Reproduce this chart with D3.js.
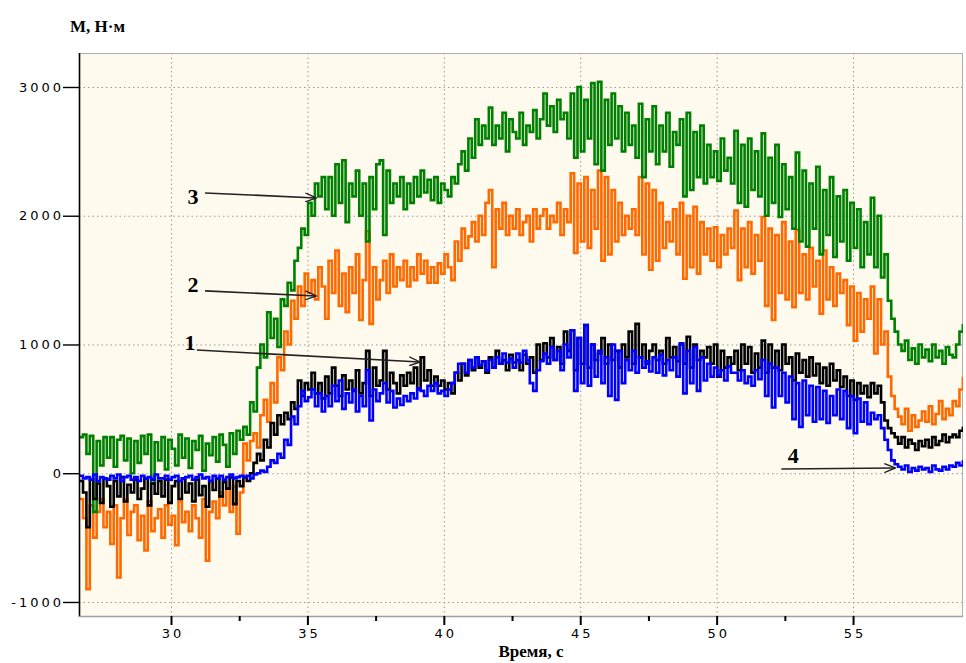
<!DOCTYPE html>
<html><head><meta charset="utf-8">
<script src="https://cdn.jsdelivr.net/npm/d3@7"></script>
<style>body{margin:0;background:#fff}svg{display:block}</style>
</head><body>
<svg id="c" width="966" height="663"></svg>
<script>
// ---- data ----
const tStart = 26.65, tStep = 0.125;   // sampling of the recorded curves, s
const xTicks = [30, 35, 40, 45, 50, 55];
const xMinorTicks = [32.5, 37.5, 42.5, 47.5, 52.5];
const yTicks = [-1000, 0, 1000, 2000, 3000];
const yTitle = "М, Н·м";
const xTitle = "Время, с";

// curve 3 (green)
const curve3 = [
 280,300,150,290,-300,250,60,280,
 120,280,50,260,290,100,270,0,
 250,80,290,150,300,-80,240,100,
 280,30,260,190,60,300,120,270,
 40,250,180,290,20,230,140,280,
 90,300,220,50,310,150,330,260,
 360,300,550,480,820,1000,900,1250,
 1050,1200,980,1350,1300,1480,1420,1650,
 1750,1900,1850,2100,2000,2250,2150,2300,
 2050,2300,2000,2400,2100,2430,1950,2250,
 2150,2350,2000,2250,1800,2300,2050,2400,
 2430,1850,2350,2100,2250,2150,2300,2050,
 2250,2100,2300,2150,2350,2180,2280,2120,
 2300,2100,2250,2200,2150,2300,2250,2400,
 2500,2350,2600,2450,2750,2550,2700,2600,
 2840,2550,2700,2600,2800,2500,2750,2650,
 2600,2800,2550,2700,2650,2820,2600,2750,
 2950,2700,2850,2650,2900,2750,2800,2600,
 2950,2450,3000,2500,2900,2600,3030,2400,
 3040,2350,2900,2550,2950,2600,2850,2500,
 2800,2550,2700,2450,2870,2300,2750,2500,
 2850,2400,2700,2500,2800,2380,2650,2550,
 2750,2150,2800,2200,2650,2300,2700,2250,
 2550,2300,2500,2270,2600,2350,2450,2250,
 2660,2100,2550,2070,2600,2200,2500,2150,
 2640,2000,2450,2100,2550,1990,2400,2050,
 2300,1900,2490,1800,2350,1760,2250,1900,
 2380,1700,2200,1850,2300,1680,2150,1800,
 2200,1650,2100,1750,2050,1600,1950,1700,
 2140,1600,2000,1520,1700,1340,1200,1100,
 1000,950,1030,880,970,850,1000,900,
 960,870,1000,900,950,850,980,920,
 900,1000,1100,1160
];
// curve 2 (orange)
const curve2 = [
 -200,-350,-900,-250,-500,-300,-200,-420,
 -300,-550,-250,-810,-350,-200,-480,-300,
 -250,-520,-330,-600,-220,-450,-350,-280,
 -500,-250,-400,-330,-560,-220,-380,-300,
 -450,-250,-350,-500,-200,-680,-300,-220,
 -350,-150,-250,-120,-300,-100,-470,-150,
 230,100,250,310,200,450,570,400,
 700,550,900,800,1100,1000,1340,1200,
 1450,1300,1550,1400,1500,1350,1600,1450,
 1200,1650,1400,1730,1300,1550,1250,1600,
 1400,1700,1190,1500,1880,1160,1600,1350,
 1500,1650,1400,1700,1450,1600,1500,1650,
 1450,1600,1500,1700,1550,1650,1480,1600,
 1480,1630,1550,1700,1600,1500,1800,1650,
 1900,1750,1840,1950,1800,2000,1850,2100,
 2200,1600,2050,1900,2100,1850,2000,1900,
 2050,1850,1950,2000,1800,2050,1900,2000,
 2050,1900,2000,1950,2100,1850,2050,1950,
 2330,1710,2250,1800,2300,1750,2200,1900,
 2350,1650,2300,1700,2200,1800,2100,1850,
 2000,1900,2050,1850,2300,1700,2250,1580,
 2200,1650,2100,1750,1950,1800,2050,1700,
 2100,1510,2000,1600,2070,1550,1950,1700,
 1900,1650,1910,1600,1850,1700,1900,1750,
 2040,1500,1900,1600,1950,1550,1850,1650,
 1990,1300,1900,1190,1850,1400,1950,1350,
 1800,1290,1890,1400,1700,1350,1750,1450,
 1650,1240,1730,1350,1600,1300,1550,1400,
 1500,1150,1450,1030,1400,1100,1350,1200,
 1450,930,1350,1000,1100,750,600,500,
 440,380,500,330,450,360,410,480,
 400,520,380,460,560,420,500,450,
 560,520,650,750
];
// curve 1 (black)
const curve1 = [
 -60,-150,-420,-50,-200,-80,-230,-40,
 -100,-260,-60,-180,-30,-220,-90,-150,
 -50,-200,-120,-40,-250,-80,-160,-60,
 -180,-50,-230,-100,-60,-200,-40,-150,
 -80,-220,-50,-170,-100,-260,-60,-130,
 -40,-180,-70,-120,-30,-240,-60,-100,
 -30,-60,0,80,150,100,260,200,
 390,300,450,380,470,420,550,500,
 720,600,700,650,780,620,700,580,
 750,620,820,680,600,760,650,720,
 640,800,620,700,950,600,820,680,
 720,950,650,780,700,620,760,680,
 780,700,820,650,900,720,800,680,
 750,680,720,650,700,620,780,720,
 850,760,880,800,900,820,870,780,
 900,820,950,850,880,800,920,860,
 880,800,920,850,900,780,1000,880,
 1010,900,1050,880,980,850,1100,950,
 1110,800,1050,850,1150,820,1000,880,
 930,1050,850,1000,880,950,820,1000,
 900,1100,850,1160,900,1000,850,950,
 1000,880,950,850,1050,900,980,870,
 1000,850,1060,820,1000,880,950,900,
 980,850,1000,750,950,820,900,850,
 950,800,1000,850,980,780,930,820,
 1030,780,1000,820,950,800,1000,850,
 900,720,930,780,880,750,900,760,
 850,700,820,680,850,720,800,670,
 750,600,720,570,700,620,680,590,
 700,620,680,550,410,350,310,280,
 230,280,200,260,230,180,250,210,
 260,200,280,220,250,300,240,280,
 300,280,330,360
];
// curve 4 (blue)
const curve4 = [
 -20,-40,-30,-50,-10,-60,-30,-40,
 -50,-20,-40,-10,-60,-30,-20,-50,
 -30,-60,-20,-40,-30,-50,-10,-40,
 -40,-20,-50,-30,-20,-60,-40,-30,
 -20,-50,-30,-10,-40,-30,-60,-20,
 -40,-20,-50,-30,-10,-40,-30,-20,
 -30,-20,-40,-10,0,20,10,50,
 100,80,150,120,260,220,440,380,
 520,640,560,590,650,520,620,480,
 600,520,680,560,720,500,620,550,
 650,480,600,520,800,410,650,560,
 620,700,550,640,510,580,530,600,
 560,620,580,660,640,600,680,640,
 700,620,640,600,650,700,780,850,
 850,780,880,820,900,840,870,800,
 880,820,900,850,930,860,890,820,
 930,860,950,880,700,640,800,870,
 930,850,980,880,950,800,1000,900,
 1110,640,1050,700,1150,680,1000,750,
 950,700,900,600,1000,570,950,700,
 880,800,950,780,900,820,870,790,
 900,780,920,760,880,800,900,750,
 1010,620,950,700,980,640,900,720,
 850,750,820,760,800,720,830,780,
 780,720,800,700,750,680,800,730,
 880,600,850,510,820,600,780,550,
 750,420,700,360,720,450,680,400,
 670,420,640,390,600,450,650,420,
 640,350,600,310,580,400,550,380,
 470,420,450,350,260,180,100,70,
 50,30,60,10,40,20,50,30,
 40,10,60,30,20,50,30,60,
 50,80,60,100
];
const seriesNames = ["2", "3", "1", "4"];
const seriesValues = [curve2, curve3, curve1, curve4];
const seriesColors = ["#ff6a00", "#008000", "#000000", "#0000ff"];

// annotations: label position and arrow (start -> end), in data units
const annLabel = ["3", "2", "1", "4"];
const annLabelT = [30.81, 30.81, 30.70, 52.81];
const annLabelV = [2151, 1468, 1017, 140];
const annFromT = [31.25, 31.25, 30.95, 52.37];
const annFromV = [2177, 1416, 957, 33];
const annToT = [35.32, 35.32, 39.13, 56.55];
const annToV = [2138, 1377, 864, 41];

// ---- drawing ----
const svg = d3.select("#c");
const L = 79, R = 963, T = 53, B = 616;
const x = d3.scaleLinear().domain([26.628, 59.03]).range([L, R]);
const y = d3.scaleLinear().domain([-1109, 3264]).range([B, T]);

svg.append("rect").attr("x", L).attr("y", T).attr("width", R - L).attr("height", B - T)
  .attr("fill", "#fffaee");

svg.append("defs").append("clipPath").attr("id", "clip")
  .append("rect").attr("x", L).attr("y", T).attr("width", R - L).attr("height", B - T);

// grid
const grid = svg.append("g").attr("stroke", "#9a9a9a").attr("stroke-width", 1)
  .attr("stroke-dasharray", "1.5,3");
grid.selectAll("line.h").data(yTicks).join("line").attr("class", "h")
  .attr("x1", L).attr("x2", R).attr("y1", d => y(d) + 0.5).attr("y2", d => y(d) + 0.5);
grid.selectAll("line.v").data(xTicks).join("line").attr("class", "v")
  .attr("x1", d => x(d) + 0.5).attr("x2", d => x(d) + 0.5).attr("y1", T).attr("y2", B);

// frame
svg.append("rect").attr("x", L + 0.5).attr("y", T + 0.5).attr("width", R - L - 1).attr("height", B - T)
  .attr("fill", "none").attr("stroke", "#b0b0b0").attr("stroke-width", 1);

// series
const line = d3.line()
  .x((d, i) => x(tStart + i * tStep))
  .y(d => y(d))
  .curve(d3.curveStepAfter);
const plot = svg.append("g").attr("clip-path", "url(#clip)");
seriesValues.forEach((vals, k) => {
  plot.append("path").datum(vals)
    .attr("fill", "none").attr("stroke", seriesColors[k]).attr("stroke-width", 2.6)
    .attr("stroke-linejoin", "miter").attr("d", line);
});

// axes
const fmt = d => String(d);
const yAxis = d3.axisLeft(y).tickValues(yTicks).tickSize(16).tickPadding(2).tickFormat(fmt);
const gy = svg.append("g").attr("transform", `translate(${L},0)`).call(yAxis);
gy.select(".domain").attr("d", `M0.5,${T}V${B + 1}`).attr("stroke", "#000").attr("stroke-width", 1.6);
gy.selectAll(".tick line").attr("stroke", "#000").attr("stroke-width", 1.4);
gy.selectAll(".tick text").attr("font-family", "DejaVu Sans").attr("font-size", 13)
  .attr("letter-spacing", "3px").attr("fill", "#000").attr("dx", "3px");

const xAxis = d3.axisBottom(x).tickValues(xTicks).tickSize(9).tickPadding(4).tickFormat(fmt);
const gx = svg.append("g").attr("transform", `translate(0,${B})`).call(xAxis);
gx.select(".domain").attr("d", `M${L},0.5H${R}`).attr("stroke", "#a0a0a0").attr("stroke-width", 1.5);
gx.selectAll(".tick line").attr("stroke", "#000").attr("stroke-width", 2);
gx.selectAll(".tick text").attr("font-family", "DejaVu Sans").attr("font-size", 13)
  .attr("letter-spacing", "3px").attr("fill", "#000").attr("dx", "1.5px");
const gxm = svg.append("g").attr("transform", `translate(0,${B})`)
  .call(d3.axisBottom(x).tickValues(xMinorTicks).tickSize(5).tickFormat(""));
gxm.select(".domain").remove();
gxm.selectAll(".tick line").attr("stroke", "#000").attr("stroke-width", 2);

// titles
svg.append("text").attr("x", 70).attr("y", 32).text(yTitle)
  .attr("font-family", "Liberation Serif").attr("font-weight", "bold").attr("font-size", 17);
svg.append("text").attr("x", 531).attr("y", 657).attr("text-anchor", "middle").text(xTitle)
  .attr("font-family", "Liberation Serif").attr("font-weight", "bold").attr("font-size", 17);

// annotations
svg.select("defs").append("marker").attr("id", "arr").attr("viewBox", "0 0 12 10")
  .attr("refX", 11).attr("refY", 5).attr("markerWidth", 12).attr("markerHeight", 10)
  .attr("markerUnits", "userSpaceOnUse").attr("orient", "auto")
  .append("path").attr("d", "M0,0.5L11,5L0,9.5").attr("fill", "none")
  .attr("stroke", "#222").attr("stroke-width", 1.4);
const ann = svg.append("g");
annLabel.forEach((s, i) => {
  ann.append("line").attr("x1", x(annFromT[i])).attr("y1", y(annFromV[i]))
    .attr("x2", x(annToT[i])).attr("y2", y(annToV[i]))
    .attr("stroke", "#222").attr("stroke-width", 1.6).attr("marker-end", "url(#arr)");
  ann.append("text").attr("x", x(annLabelT[i])).attr("y", y(annLabelV[i]))
    .attr("text-anchor", "middle").attr("dominant-baseline", "central").text(s)
    .attr("font-family", "Liberation Serif").attr("font-weight", "bold").attr("font-size", 22);
});
</script>
</body></html>
